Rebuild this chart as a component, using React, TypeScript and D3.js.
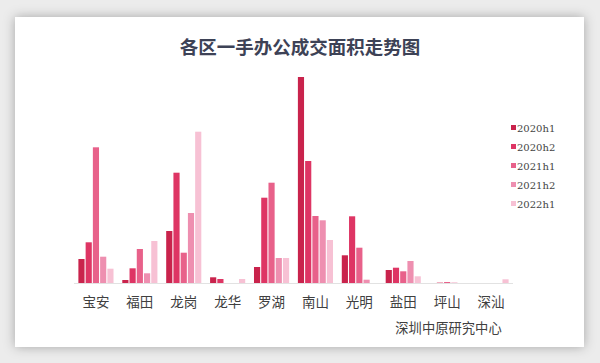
import * as d3 from 'd3';
import React from 'react';

// 各区一手办公成交面积 (px-estimated values, arbitrary units)
const districts = ['宝安', '福田', '龙岗', '龙华', '罗湖', '南山', '光明', '盐田', '坪山', '深汕'];
const seriesNames = ['2020h1', '2020h2', '2021h1', '2021h2', '2022h1'];
const s2020h1 = [24, 3, 52, 5.7, 16, 206, 27.7, 13, 0, 0];
const s2020h2 = [40.7, 14.7, 110.3, 4, 85.3, 122, 66.7, 15.3, 0.4, 0];
const s2021h1 = [135.7, 34, 30.3, 0, 100.3, 67, 35.3, 11.7, 1, 0];
const s2021h2 = [26.3, 9.7, 70, 0, 25, 62.7, 3.3, 22, 0.4, 0];
const s2022h1 = [14.3, 42, 151.3, 4, 25, 43, 0, 6.7, 0, 3.7];
const colors = ['#c9234c', '#de3564', '#e8618a', '#ee8fb0', '#f7c1d4'];

const series = [s2020h1, s2020h2, s2021h1, s2021h2, s2022h1];

const W = 600;
const H = 363;
const margin = { left: 74, right: 87, top: 77, bottom: 80 };

export default function App() {
  const x = d3.scaleBand<string>()
    .domain(districts)
    .range([margin.left, W - margin.right])
    .paddingInner(0.2)
    .paddingOuter(0.1);
  const xs = d3.scaleBand<string>()
    .domain(seriesNames)
    .range([0, x.bandwidth()])
    .paddingInner(0.15);
  const y = d3.scaleLinear()
    .domain([0, 206])
    .range([H - margin.bottom, margin.top]);
  const base = y(0);

  return (
    <svg width={W} height={H} style={{ position: 'absolute', left: 0, top: 0 }}>
      <defs>
        <filter id="shadow" x="-10%" y="-10%" width="120%" height="120%">
          <feDropShadow dx="0" dy="0" stdDeviation="6" floodColor="#000" floodOpacity="0.3" />
        </filter>
      </defs>
      <rect x={0} y={0} width={W} height={H} fill="#ececec" />
      <rect x={15} y={17} width={569} height={330} fill="#fff" filter="url(#shadow)" />
      <text x={300} y={54} textAnchor="middle" fontFamily="Noto Sans CJK SC" fontWeight="bold"
        fontSize={18.5} fill="#3d4256">各区一手办公成交面积走势图</text>

      {series.map((vals, si) => (
        <g key={seriesNames[si]} fill={colors[si]}>
          {vals.map((v, i) => (
            <rect key={districts[i]}
              x={x(districts[i])! + xs(seriesNames[si])!}
              y={y(v)}
              width={xs.bandwidth()}
              height={base - y(v)} />
          ))}
        </g>
      ))}

      <line x1={margin.left} x2={W - margin.right} y1={base + 0.5} y2={base + 0.5} stroke="#e2e2e2" />

      {districts.map(d => (
        <text key={d} x={x(d)! + x.bandwidth() / 2} y={307} textAnchor="middle"
          fontFamily="Noto Sans CJK SC" fontSize={13.5} fill="#404040">{d}</text>
      ))}

      {seriesNames.map((n, i) => (
        <g key={n} transform={`translate(511,${128 + i * 19})`}>
          <rect x={0} y={-3} width={5} height={5} fill={colors[i]} />
          <text x={6} y={3.5} fontFamily="DejaVu Serif, Liberation Serif, serif" fontSize={10} fill="#444">{n}</text>
        </g>
      ))}

      <text x={448.5} y={333} textAnchor="middle" fontFamily="Noto Sans CJK SC" fontSize={13.3} fill="#404040">深圳中原研究中心</text>
    </svg>
  );
}
